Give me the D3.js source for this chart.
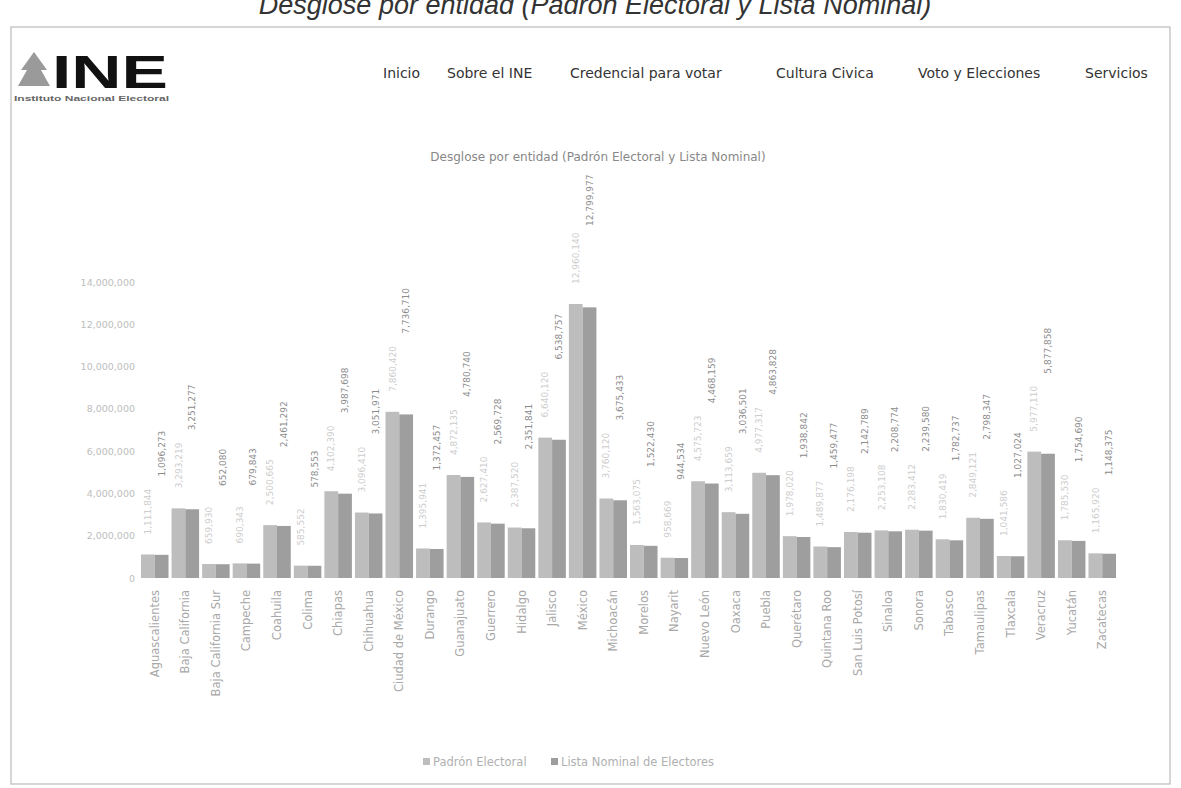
<!DOCTYPE html>
<html>
<head>
<meta charset="utf-8">
<script src="https://cdn.jsdelivr.net/npm/d3@7"></script>
<style>
  body { margin: 0; background: #fff; }
  svg { display: block; }
</style>
</head>
<body>
<script>
// Entidades y valores
var entidades = ["Aguascalientes", "Baja California", "Baja California Sur", "Campeche", "Coahuila",
  "Colima", "Chiapas", "Chihuahua", "Ciudad de México", "Durango", "Guanajuato", "Guerrero",
  "Hidalgo", "Jalisco", "México", "Michoacán", "Morelos", "Nayarit", "Nuevo León", "Oaxaca",
  "Puebla", "Querétaro", "Quintana Roo", "San Luis Potosí", "Sinaloa", "Sonora", "Tabasco",
  "Tamaulipas", "Tlaxcala", "Veracruz", "Yucatán", "Zacatecas"];

var padron = [1111844, 3293219, 659930, 690343, 2500665, 585552, 4102390, 3096410, 7860420, 1395941,
  4872135, 2627410, 2387520, 6640120, 12960140, 3760120, 1563075, 958669, 4575723, 3113659,
  4977317, 1978020, 1489877, 2176198, 2253108, 2283412, 1830419, 2849121, 1041586, 5977110,
  1785530, 1165920];

var lista = [1096273, 3251277, 652080, 679843, 2461292, 578553, 3987698, 3051971, 7736710, 1372457,
  4780740, 2569728, 2351841, 6538757, 12799977, 3675433, 1522430, 944534, 4468159, 3036501,
  4863828, 1938842, 1459477, 2142789, 2208774, 2239580, 1782737, 2798347, 1027024, 5877858,
  1754690, 1148375];

var yTicks = [0, 2000000, 4000000, 6000000, 8000000, 10000000, 12000000, 14000000];

var series = ["Padrón Electoral", "Lista Nominal de Electores"];
var colores = ["#bdbdbd", "#9e9e9e"];

var width = 1181, height = 788;
var font = "'DejaVu Sans', sans-serif";

var svg = d3.select("body").append("svg")
    .attr("width", width)
    .attr("height", height);

// titulo de la pagina escaneada (cortado arriba)
svg.append("text")
    .attr("x", 595).attr("y", 14)
    .attr("text-anchor", "middle")
    .style("font-family", "'Liberation Sans', Arial, sans-serif")
    .style("font-style", "italic")
    .style("font-size", "27px")
    .style("fill", "#333")
    .text("Desglose por entidad (Padrón Electoral y Lista Nominal)");

// marco de la captura
svg.append("rect")
    .attr("x", 11).attr("y", 27)
    .attr("width", 1159).attr("height", 757)
    .style("fill", "none")
    .style("stroke", "#bbb")
    .style("stroke-width", 1.2);

// logo INE
var logo = svg.append("g");
logo.append("path")
    .attr("d", "M34,52 L21,70 L27,70 L18,86 L50,86 L41,70 L47,70 Z")
    .style("fill", "#9a9a9a");
logo.append("text")
    .attr("x", 52).attr("y", 88)
    .attr("textLength", 116)
    .attr("lengthAdjust", "spacingAndGlyphs")
    .style("font-family", "'Liberation Sans', Arial, sans-serif")
    .style("font-weight", "bold")
    .style("font-size", "46px")
    .style("fill", "#111")
    .text("INE");
logo.append("text")
    .attr("x", 14).attr("y", 101)
    .attr("textLength", 155)
    .attr("lengthAdjust", "spacingAndGlyphs")
    .style("font-family", "'Liberation Sans', Arial, sans-serif")
    .style("font-weight", "bold")
    .style("font-size", "7px")
    .style("fill", "#666")
    .text("Instituto Nacional Electoral");

// menu
var menu = [["Inicio", 383], ["Sobre el INE", 447], ["Credencial para votar", 570],
  ["Cultura Civica", 776], ["Voto y Elecciones", 918], ["Servicios", 1085]];
svg.selectAll(".menu").data(menu).enter().append("text")
    .attr("class", "menu")
    .attr("x", function(d) { return d[1]; })
    .attr("y", 78)
    .style("font-family", font)
    .style("font-size", "14px")
    .style("fill", "#333")
    .text(function(d) { return d[0]; });

// titulo del grafico
svg.append("text")
    .attr("x", 598).attr("y", 161)
    .attr("text-anchor", "middle")
    .style("font-family", font)
    .style("font-size", "12px")
    .style("fill", "#888")
    .text("Desglose por entidad (Padrón Electoral y Lista Nominal)");

var x0 = d3.scaleBand()
    .domain(entidades)
    .range([141, 1116])
    .paddingInner(0.1);

var x1 = d3.scaleBand()
    .domain(series)
    .range([0, x0.bandwidth()]);

var y = d3.scaleLinear()
    .domain([0, 14000000])
    .range([578, 282]);

var fmt = d3.format(",");

// eje y
var yAxis = svg.append("g")
    .attr("transform", "translate(135,0)")
    .call(d3.axisLeft(y).tickValues(yTicks).tickFormat(fmt).tickSize(0).tickPadding(0));
yAxis.select(".domain").remove();
yAxis.selectAll("text")
    .style("font-family", font)
    .style("font-size", "9.5px")
    .style("fill", "#bdbdbd");

// barras
var datos = entidades.map(function(e, i) {
  return { entidad: e, valores: [padron[i], lista[i]] };
});

var grupos = svg.selectAll(".grupo").data(datos).enter().append("g")
    .attr("class", "grupo")
    .attr("transform", function(d) { return "translate(" + x0(d.entidad) + ",0)"; });

grupos.selectAll("rect")
    .data(function(d) { return d.valores.map(function(v, j) { return { s: series[j], v: v, j: j }; }); })
    .enter().append("rect")
    .attr("x", function(d) { return x1(d.s); })
    .attr("y", function(d) { return y(d.v); })
    .attr("width", x1.bandwidth())
    .attr("height", function(d) { return y(0) - y(d.v); })
    .style("fill", function(d) { return colores[d.j]; });

// etiquetas de valor (rotadas)
var offsets = [20, 78];
var colTexto = ["#cdcdcd", "#8c8c8c"];
grupos.selectAll(".valor")
    .data(function(d) {
      var top = y(d3.max(d.valores));
      return d.valores.map(function(v, j) { return { s: series[j], v: v, j: j, top: top }; });
    })
    .enter().append("text")
    .attr("class", "valor")
    .attr("transform", function(d) {
      return "translate(" + (x1(d.s) + x1.bandwidth() / 2) + "," + (d.top - offsets[d.j]) + ") rotate(-90)";
    })
    .attr("dy", "0.35em")
    .style("font-family", font)
    .style("font-size", "9px")
    .style("fill", function(d) { return colTexto[d.j]; })
    .text(function(d) { return fmt(d.v); });

// etiquetas de categoria
svg.selectAll(".cat").data(entidades).enter().append("text")
    .attr("class", "cat")
    .attr("transform", function(d) {
      return "translate(" + (x0(d) + x0.bandwidth() / 2) + ",590) rotate(-90)";
    })
    .attr("text-anchor", "end")
    .attr("dy", "0.35em")
    .style("font-family", font)
    .style("font-size", "11.5px")
    .style("fill", "#a8a8a8")
    .text(function(d) { return d; });

// leyenda
var leyenda = svg.append("g").attr("transform", "translate(423,762)");
var li = leyenda.selectAll("g").data(series).enter().append("g")
    .attr("transform", function(d, i) { return "translate(" + (i * 128) + ",0)"; });
li.append("rect")
    .attr("x", 0).attr("y", -4)
    .attr("width", 7).attr("height", 7)
    .style("fill", function(d, i) { return colores[i]; });
li.append("text")
    .attr("x", 10).attr("y", 0)
    .attr("dy", "0.35em")
    .style("font-family", font)
    .style("font-size", "11.5px")
    .style("fill", "#b0b0b0")
    .text(function(d) { return d; });
</script>
</body>
</html>
